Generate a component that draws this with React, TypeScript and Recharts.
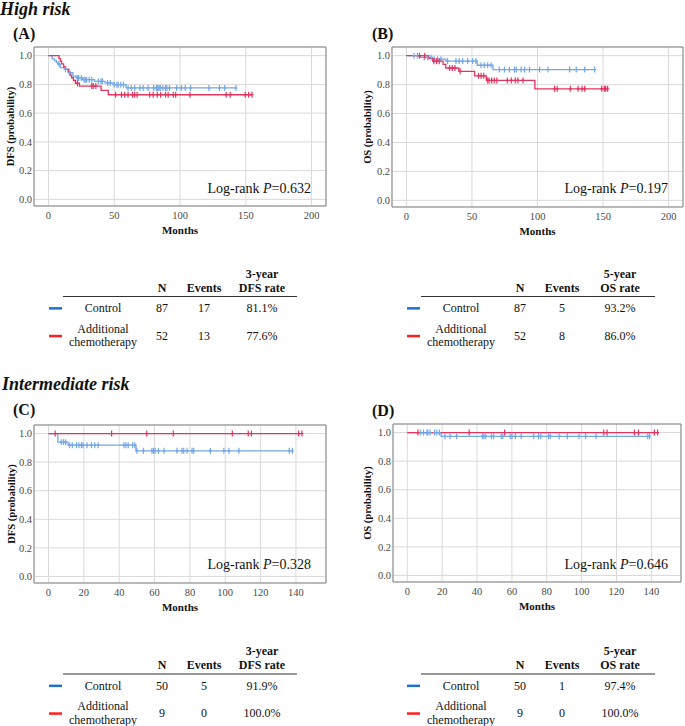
import React from 'react';
import { ComposedChart, Line, XAxis, YAxis, CartesianGrid, ReferenceArea } from 'recharts';

type Step = [number, number];

// High risk, DFS
const dfsHighControlSteps: Step[] = [
  [2.8, 0.977], [4.6, 0.965], [6, 0.953], [7, 0.941], [9, 0.917], [12, 0.905], [15.5, 0.881],
  [18.6, 0.857], [21, 0.845], [26, 0.833], [35, 0.821], [43, 0.81], [49, 0.798], [59, 0.775],
];
const dfsHighControlCensor = [
  8, 13, 16, 22, 23, 25, 27, 28, 29, 31, 33, 38, 40, 41, 45, 47, 50, 52, 53, 55, 57, 60.5, 63, 65.6,
  69.5, 72, 75.8, 80, 82, 83, 84, 85, 87, 89, 90, 92, 97.5, 101, 104, 108, 122, 130, 134, 142.5,
];
const dfsHighChemoSteps: Step[] = [
  [8, 0.981], [9, 0.962], [10, 0.942], [11.5, 0.923], [13, 0.904], [15, 0.885], [16.5, 0.865],
  [17.5, 0.846], [19, 0.827], [20.5, 0.808], [23.5, 0.788], [40, 0.758], [45.5, 0.728],
];
const dfsHighChemoCensor = [
  22, 33, 34, 36, 51, 55.5, 58, 60.5, 63.9, 65.6, 67.4, 77, 79.6, 82.7, 85.3, 89, 91, 94.9, 96.7,
  107.6, 135.1, 138.2, 149.6, 152.2, 154.7,
];

// High risk, OS
const osHighControlSteps: Step[] = [[11, 0.988], [20, 0.976], [30, 0.963], [54, 0.934], [66, 0.904]];
const osHighControlCensor = [
  5.8, 8.4, 13.6, 16.1, 18.7, 21.2, 23.8, 26.3, 31.4, 37.8, 40.3, 42.9, 46.7, 50.5, 53, 56.9, 59.4,
  62, 64.6, 70.9, 74.8, 78.6, 82.4, 83.7, 87.5, 90.1, 93.9, 101.6, 108, 124.5, 129.6, 136, 143.6,
];
const osHighChemoSteps: Step[] = [
  [17, 0.981], [20, 0.962], [28, 0.94], [30, 0.915], [40, 0.892], [52, 0.861], [61, 0.829], [98, 0.771],
];
const osHighChemoCensor = [
  10, 14, 21, 23, 25, 33, 35, 37, 41, 55, 57, 59, 62, 63, 65, 67, 69, 77, 80, 83, 85, 89, 113, 115,
  125, 131, 134, 136, 149, 151, 152, 153.5,
];

// Intermediate risk, DFS
const dfsIntControlSteps: Step[] = [[5.3, 0.94], [11, 0.919], [49.5, 0.879]];
const dfsIntControlCensor = [
  7.2, 8.5, 9.7, 12, 13.5, 15.8, 17.2, 18.6, 19.5, 21.8, 24.3, 26.2, 28.1, 42.7, 43.8, 45.1, 47.6,
  48.9, 50, 53.7, 58.5, 59.4, 60.3, 62.2, 65.4, 72.7, 75.5, 76.5, 78.4, 81.2, 82.1, 91.6, 99.2,
  102.1, 107.7, 136.2, 138,
];
const dfsIntChemoSteps: Step[] = [];
const dfsIntChemoCensor = [3.8, 35.7, 55.6, 70.6, 104, 113, 114.8, 141.5, 143.4];

// Intermediate risk, OS
const osIntControlSteps: Step[] = [[19.4, 0.974]];
const osIntControlCensor = [
  7.4, 9.3, 11.2, 11.8, 13.1, 15.6, 16.9, 18.4, 21.6, 24.5, 28.3, 43.1, 44, 45, 48.2, 49.5, 53.9,
  54.8, 59, 60, 62, 65.3, 72.5, 75.3, 76.6, 81, 82, 87.1, 91.8, 98.5, 102.3, 108.3, 137.9, 138.9,
];
const osIntChemoSteps: Step[] = [];
const osIntChemoCensor = [6.1, 35.5, 55.8, 112.7, 114.6, 130.3, 132.6, 141.7, 143.6];

const xTicksHigh = [0, 50, 100, 150, 200];
const xTicksInt = [0, 20, 40, 60, 80, 100, 120, 140];
const yTicks = [0, 0.2, 0.4, 0.6, 0.8, 1.0];

// tables
const groups = ['Control', 'Additional', 'chemotherapy'];
const highN = [87, 52];
const highDfsEvents = [17, 13];
const highDfsRate = ['81.1%', '77.6%'];
const highOsEvents = [5, 8];
const highOsRate = ['93.2%', '86.0%'];
const intN = [50, 9];
const intDfsEvents = [5, 0];
const intDfsRate = ['91.9%', '100.0%'];
const intOsEvents = [1, 0];
const intOsRate = ['97.4%', '100.0%'];

const BLUE = '#74a7e6';
const RED = '#e3345f';
const FONT = "'Liberation Serif', 'Times New Roman', serif";

function kmPoints(steps: Step[], censor: number[]) {
  const level = (t: number) => {
    let s = 1;
    for (const [st, sv] of steps) if (st <= t) s = sv;
    return s;
  };
  const pts = [
    { t: 0, s: 1, c: false },
    ...steps.map(([t, s]) => ({ t, s, c: false })),
    ...censor.map((t) => ({ t, s: level(t), c: true })),
  ];
  return pts.sort((a, b) => a.t - b.t);
}

const censorDot = (color: string) => (props: any) => {
  const { cx, cy, payload, index } = props;
  if (!payload || !payload.c) return <g key={`n-${index}`} />;
  return (
    <g key={`c-${index}`}>
      <line x1={cx} x2={cx} y1={cy - 3} y2={cy + 3} stroke={color} strokeWidth={1.2} />
      <line x1={cx - 1.5} x2={cx + 1.5} y1={cy} y2={cy} stroke={color} strokeWidth={1.2} />
    </g>
  );
};

type KmProps = {
  left: number;
  top: number;
  width: number;
  plotHeight: number;
  xDomain: [number, number];
  xTicks: number[];
  control: { t: number; s: number; c: boolean }[];
  chemo: { t: number; s: number; c: boolean }[];
};

const Y_DOMAIN: [number, number] = [-0.046, 1.06];

function KmPanel({ left, top, width, plotHeight, xDomain, xTicks, control, chemo }: KmProps) {
  const tick = { fontFamily: FONT, fontSize: 10.5, fill: '#4a4a4a' };
  return (
    <div style={{ position: 'absolute', left, top, fontFamily: FONT }}>
      <ComposedChart
        width={width}
        height={1 + plotHeight + 34}
        margin={{ top: 1, right: 1, left: 0, bottom: 0 }}
        style={{ fontFamily: FONT }}
      >
        <CartesianGrid stroke="#d9d9d9" strokeWidth={1} />
        <XAxis
          type="number"
          dataKey="t"
          domain={xDomain}
          ticks={xTicks}
          allowDataOverflow
          height={34}
          tickLine={false}
          axisLine={false}
          tickSize={6}
          tickMargin={0}
          tick={tick}
          label={{
            value: 'Months',
            position: 'insideBottom',
            offset: 6,
            style: { fontFamily: FONT, fontSize: 11, fontWeight: 'bold', fill: '#111' },
          }}
        />
        <YAxis
          type="number"
          domain={Y_DOMAIN}
          ticks={yTicks}
          allowDataOverflow
          width={34}
          tickLine={false}
          axisLine={false}
          tickSize={2}
          tickMargin={0}
          tick={tick}
          tickFormatter={(v: number) => v.toFixed(1)}
        />
        <Line
          data={control}
          dataKey="s"
          type="stepAfter"
          stroke={BLUE}
          strokeWidth={1.3}
          dot={censorDot(BLUE)}
          activeDot={false}
          isAnimationActive={false}
        />
        <Line
          data={chemo}
          dataKey="s"
          type="stepAfter"
          stroke={RED}
          strokeWidth={1.3}
          dot={censorDot(RED)}
          activeDot={false}
          isAnimationActive={false}
        />
        <ReferenceArea
          x1={xDomain[0]}
          x2={xDomain[1]}
          y1={Y_DOMAIN[0]}
          y2={Y_DOMAIN[1]}
          fill="none"
          stroke="#858585"
          strokeWidth={1}
          ifOverflow="visible"
        />
      </ComposedChart>
    </div>
  );
}

function SummaryTable({ dx, base, rateTop, rateBottom, n, events, rates }: {
  dx: number; base: number; rateTop: string; rateBottom: string;
  n: number[]; events: number[]; rates: string[];
}) {
  const xs = { label: 103 + dx, n: 162 + dx, ev: 204 + dx, rate: 262 + dx };
  const t = { fontFamily: FONT, fontSize: 12, fill: '#111', textAnchor: 'middle' as const };
  const b = { ...t, fontWeight: 'bold' as const };
  return (
    <g>
      <text x={xs.rate} y={base} {...b}>{rateTop}</text>
      <text x={xs.n} y={base + 14.3} {...b}>N</text>
      <text x={xs.ev} y={base + 14.3} {...b}>Events</text>
      <text x={xs.rate} y={base + 14.3} {...b}>{rateBottom}</text>
      <line x1={63 + dx} x2={297 + dx} y1={base + 19} y2={base + 19} stroke="#333" strokeWidth={1.2} />
      <rect x={49 + dx} y={base + 29.6} width={13} height={2.5} fill="#1f6fd1" />
      <rect x={49 + dx} y={base + 57.3} width={13} height={2.5} fill="#ff1f1f" />
      <text x={xs.label} y={base + 34.5} {...t}>{groups[0]}</text>
      <text x={xs.label} y={base + 55} {...t}>{groups[1]}</text>
      <text x={xs.label} y={base + 68.8} {...t}>{groups[2]}</text>
      <text x={xs.n} y={base + 34.5} {...t}>{n[0]}</text>
      <text x={xs.ev} y={base + 34.5} {...t}>{events[0]}</text>
      <text x={xs.rate} y={base + 34.5} {...t}>{rates[0]}</text>
      <text x={xs.n} y={base + 62.3} {...t}>{n[1]}</text>
      <text x={xs.ev} y={base + 62.3} {...t}>{events[1]}</text>
      <text x={xs.rate} y={base + 62.3} {...t}>{rates[1]}</text>
    </g>
  );
}

function LogRank({ x, y, p }: { x: number; y: number; p: string }) {
  return (
    <text x={x} y={y} textAnchor="end" fontFamily={FONT} fontSize={14} fill="#111">
      Log-rank <tspan fontStyle="italic">P</tspan>={p}
    </text>
  );
}

function YTitle({ x, y, text }: { x: number; y: number; text: string }) {
  return (
    <text
      x={x}
      y={y}
      transform={`rotate(-90, ${x}, ${y})`}
      textAnchor="middle"
      fontFamily={FONT}
      fontSize={10.5}
      fontWeight="bold"
      fill="#111"
    >
      {text}
    </text>
  );
}

export default function App() {
  const heading = { fontFamily: FONT, fontWeight: 'bold' as const, fill: '#111' };
  return (
    <div
      style={{
        position: 'absolute',
        left: 0,
        top: 0,
        width: 685,
        height: 726,
        background: '#fff',
        overflow: 'hidden',
        fontFamily: FONT,
      }}
    >
      <KmPanel
        left={0}
        top={46}
        width={327}
        plotHeight={159}
        xDomain={[-11, 211]}
        xTicks={xTicksHigh}
        control={kmPoints(dfsHighControlSteps, dfsHighControlCensor)}
        chemo={kmPoints(dfsHighChemoSteps, dfsHighChemoCensor)}
      />
      <KmPanel
        left={358}
        top={46}
        width={326}
        plotHeight={160}
        xDomain={[-11, 211]}
        xTicks={xTicksHigh}
        control={kmPoints(osHighControlSteps, osHighControlCensor)}
        chemo={kmPoints(osHighChemoSteps, osHighChemoCensor)}
      />
      <KmPanel
        left={0}
        top={424}
        width={327}
        plotHeight={158}
        xDomain={[-8.2, 157]}
        xTicks={xTicksInt}
        control={kmPoints(dfsIntControlSteps, dfsIntControlCensor)}
        chemo={kmPoints(dfsIntChemoSteps, dfsIntChemoCensor)}
      />
      <KmPanel
        left={359}
        top={423}
        width={323}
        plotHeight={158}
        xDomain={[-8.2, 157]}
        xTicks={xTicksInt}
        control={kmPoints(osIntControlSteps, osIntControlCensor)}
        chemo={kmPoints(osIntChemoSteps, osIntChemoCensor)}
      />
      <svg
        width={685}
        height={726}
        style={{ position: 'absolute', left: 0, top: 0, pointerEvents: 'none', fontFamily: FONT }}
      >
        <text x={0} y={14.5} fontSize={18} fontStyle="italic" {...heading}>High risk</text>
        <text x={13} y={39} fontSize={16} {...heading}>(A)</text>
        <text x={372} y={39} fontSize={16} {...heading}>(B)</text>
        <text x={2} y={390} fontSize={18} fontStyle="italic" {...heading}>Intermediate risk</text>
        <text x={13} y={415} fontSize={16} {...heading}>(C)</text>
        <text x={372} y={416} fontSize={16} {...heading}>(D)</text>

        <YTitle x={14} y={126.5} text="DFS (probability)" />
        <YTitle x={371} y={127} text="OS (probability)" />
        <YTitle x={15} y={504} text="DFS (probability)" />
        <YTitle x={371} y={503} text="OS (probability)" />

        <LogRank x={311} y={192.5} p="0.632" />
        <LogRank x={668} y={192.5} p="0.197" />
        <LogRank x={311} y={569} p="0.328" />
        <LogRank x={668} y={569} p="0.646" />

        <SummaryTable dx={0} base={277.5} rateTop="3-year" rateBottom="DFS rate" n={highN} events={highDfsEvents} rates={highDfsRate} />
        <SummaryTable dx={358} base={277.5} rateTop="5-year" rateBottom="OS rate" n={highN} events={highOsEvents} rates={highOsRate} />
        <SummaryTable dx={0} base={655} rateTop="3-year" rateBottom="DFS rate" n={intN} events={intDfsEvents} rates={intDfsRate} />
        <SummaryTable dx={358} base={655} rateTop="5-year" rateBottom="OS rate" n={intN} events={intOsEvents} rates={intOsRate} />
      </svg>
    </div>
  );
}
